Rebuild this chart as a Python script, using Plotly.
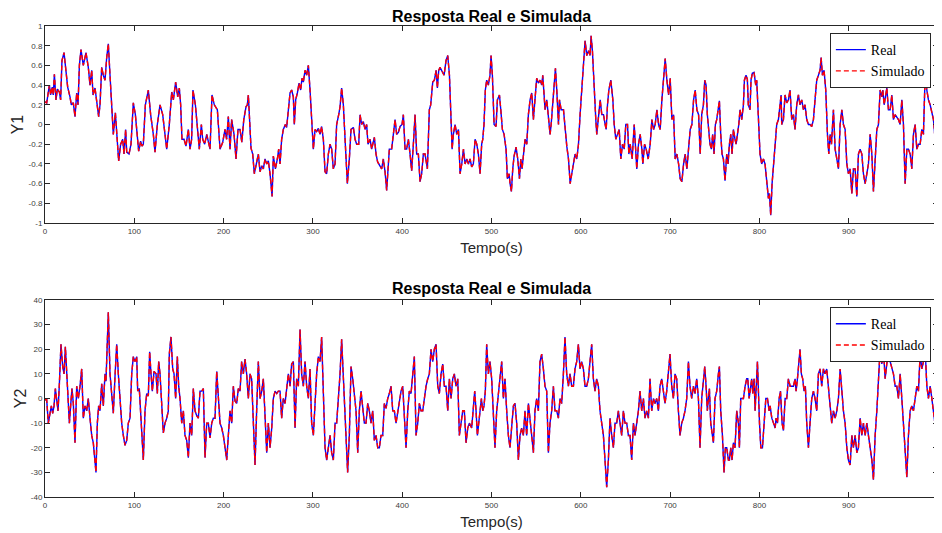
import plotly.graph_objects as go

# ---------------- data (time in s) ----------------
y1_points = [
(0,0.23),(1.9,0.22),(4.9,0.40),(6.3,0.30),(8.2,0.38),(9.3,0.30),(10.5,0.51),(12.3,0.25),(13.8,0.36),(16.1,0.33),
(17.5,0.25),(19.0,0.65),(21.3,0.73),(23.5,0.55),(25.4,0.38),(28.0,0.28),(29.5,0.20),(31.7,0.22),(33.6,0.08),(35.5,0.32),
(37.0,0.20),(38.5,0.60),(40.3,0.76),(42.9,0.60),(45.9,0.73),(48.5,0.58),(50.4,0.40),(52.3,0.55),(53.8,0.30),(56.0,0.37),
(57.9,0.25),(60.1,0.08),(61.6,0.20),(63.5,0.58),(65.3,0.50),(67.2,0.45),(69.1,0.68),(70.9,0.82),(72.8,0.50),(74.7,0.10),
(76.5,-0.10),(78.8,0.12),(81.0,-0.20),(82.5,-0.37),(84.7,-0.20),(87.0,-0.15),(88.5,-0.30),(90.3,-0.05),(91.5,-0.28),(94.1,-0.30),
(96.3,-0.20),(98.9,0.22),(101.2,0.10),(103.4,-0.10),(104.9,-0.27),(107.1,-0.17),(108.6,-0.22),(110.1,-0.20),(112.4,0.20),(115.7,0.35),
(118.3,0.10),(121.3,-0.10),(123.2,-0.28),(125.8,0.00),(128.8,0.20),(131.8,0.10),(134.4,-0.08),(136.3,-0.25),(139.2,0.00),(141.9,0.33),
(143.7,0.25),(146.3,0.43),(148.6,0.28),(150.4,0.37),(151.9,0.20),(153.4,-0.15),(155.7,-0.15),(157.9,-0.22),(160.5,-0.05),(162.4,-0.25),
(164.2,-0.15),(165.7,0.35),(168.4,0.20),(170.6,0.00),(172.8,-0.25),(175.1,0.00),(176.6,-0.15),(178.8,-0.20),(181.1,-0.10),(184.8,-0.25),
(187.0,0.30),(189.6,0.20),(193.0,0.15),(196.0,-0.25),(199.0,-0.18),(201.6,-0.05),(203.4,-0.15),(205.3,0.08),(207.2,-0.25),(209.0,0.05),
(211.7,-0.10),(213.9,-0.35),(216.1,-0.05),(218.4,-0.05),(220.4,-0.18),(222.6,0.05),(225.1,0.18),(226.6,0.20),(227.7,0.30),(230.7,-0.24),
(232.6,-0.30),(234.4,-0.50),(236.3,-0.40),(238.9,-0.30),(240.8,-0.48),(242.7,-0.42),(244.5,-0.45),(246.4,-0.35),(248.3,-0.40),(250.1,-0.37),
(252.0,-0.50),(254.3,-0.73),(255.7,-0.32),(258.0,-0.45),(260.2,-0.35),(261.7,-0.25),(263.2,-0.40),(265.0,-0.15),(266.9,-0.05),(269.1,0.00),
(270.6,-0.03),(272.5,0.16),(274.4,0.32),(276.2,0.35),(278.1,0.28),(279.2,0.00),(280.7,0.25),(282.6,0.32),(284.5,0.42),(286.3,0.35),
(287.8,0.47),(289.3,0.43),(291.2,0.55),(293.0,0.50),(294.9,0.60),(296.8,0.35),(298.6,0.00),(300.5,-0.25),(302.4,-0.05),(304.2,-0.07),
(306.1,-0.04),(308.0,-0.10),(309.8,-0.02),(311.7,-0.15),(313.6,-0.48),(315.4,-0.50),(317.3,-0.30),(319.2,-0.20),(321.0,-0.25),(322.9,-0.45),
(324.8,-0.40),(326.6,0.00),(328.9,0.10),(330.4,0.18),(332.2,0.37),(334.1,0.20),(336.3,-0.20),(338.6,-0.60),(340.8,-0.35),(342.7,-0.05),
(345.3,-0.03),(347.2,-0.15),(349.0,-0.20),(351.3,-0.20),(352.8,0.10),(354.6,0.00),(356.5,0.03),(358.4,-0.05),(360.2,0.00),(361.7,-0.20),
(364.0,-0.15),(365.8,-0.25),(368.8,-0.13),(370.7,-0.30),(372.5,-0.38),(375.2,-0.42),(377.0,-0.45),(378.9,-0.35),(380.8,-0.48),(382.6,-0.67),
(384.1,-0.48),(385.6,-0.25),(388.2,-0.25),(390.1,-0.10),(392.0,0.05),(393.8,-0.10),(395.7,-0.08),(397.6,-0.02),(399.8,0.00),(401.3,0.10),
(403.2,-0.25),(405.0,-0.25),(406.9,-0.15),(408.8,-0.30),(410.6,-0.47),(412.5,-0.20),(414.4,0.10),(416.2,-0.30),(418.1,-0.30),(420.0,-0.58),
(421.8,-0.50),(423.7,-0.30),(425.6,-0.30),(428.2,-0.45),(430.4,0.15),(431.9,0.20),(434.2,0.43),(436.0,0.45),(438.0,0.55),(439.4,0.37),
(440.9,0.55),(442.4,0.58),(444.3,0.55),(446.9,0.50),(449.1,0.65),(451.0,0.70),(452.9,0.50),(454.4,0.00),(455.9,-0.25),(457.3,-0.10),
(459.2,0.00),(461.1,-0.10),(463.0,-0.05),(464.8,-0.50),(466.7,-0.40),(468.6,-0.25),(470.4,-0.40),(472.3,-0.35),(474.2,-0.40),(476.0,-0.35),
(477.8,-0.43),(479.7,-0.40),(481.6,-0.15),(483.5,-0.20),(485.3,-0.30),(487.2,-0.50),(489.0,-0.20),(490.2,-0.15),(491.6,0.00),(493.1,0.35),
(494.6,0.45),(496.5,0.40),(498.3,0.50),(499.5,0.70),(501.0,0.50),(502.9,0.00),(505.1,-0.02),(506.6,0.25),(508.9,0.30),(510.4,0.15),
(512.2,-0.05),(514.1,-0.10),(516.3,-0.25),(517.8,-0.55),(519.7,-0.50),(520.8,-0.60),(522.3,-0.68),(523.8,-0.45),(525.3,-0.32),(527.5,-0.23),
(529.4,-0.35),(531.3,-0.55),(532.8,-0.35),(534.2,-0.45),(535.7,-0.30),(537.6,-0.15),(539.5,-0.20),(541.3,0.10),(543.2,0.25),(545.1,0.32),
(546.9,0.05),(548.8,0.30),(550.6,0.47),(552.5,0.42),(554.4,0.45),(556.2,0.40),(557.4,0.50),(558.9,0.30),(560.0,0.15),(561.9,0.25),
(563.8,0.05),(565.6,-0.10),(566.8,0.00),(568.6,0.20),(570.5,0.40),(571.6,0.57),(573.1,0.35),(575.0,0.00),(576.1,0.25),(578.0,0.15),
(580.6,0.15),(582.5,-0.05),(584.3,-0.22),(586.2,-0.35),(588.1,-0.60),(589.9,-0.50),(591.8,-0.40),(593.6,-0.30),(595.5,-0.35),(597.4,-0.20),
(599.2,0.10),(601.1,0.35),(603.0,0.60),(604.8,0.85),(606.7,0.70),(608.6,0.75),(610.4,0.70),(611.5,0.90),(613.0,0.75),(614.9,0.35),
(616.8,0.05),(617.9,-0.10),(619.8,0.10),(621.7,0.25),(623.5,0.10),(625.4,0.10),(627.3,0.00),(628.4,-0.05),(629.9,0.20),(631.4,0.35),
(633.6,0.45),(635.9,0.25),(637.4,0.00),(639.2,-0.15),(641.1,-0.10),(643.0,-0.05),(644.8,-0.35),(646.7,-0.20),(648.6,-0.25),(650.4,0.00),
(652.3,0.00),(653.8,-0.30),(655.3,-0.20),(657.5,-0.35),(659.8,0.00),(661.3,-0.30),(662.7,-0.45),(664.6,-0.20),(666.5,-0.10),(668.4,-0.25),
(669.5,-0.40),(671.4,-0.20),(673.2,-0.25),(675.5,-0.35),(677.7,-0.20),(679.6,0.05),(681.5,-0.05),(683.3,0.00),(685.2,0.15),(687.1,0.00),
(688.9,-0.05),(690.8,0.25),(692.7,0.45),(694.5,0.67),(696.4,0.45),(698.3,0.30),(700.1,0.47),(702.0,0.05),(703.9,0.10),(705.7,-0.35),
(707.6,-0.30),(709.5,-0.40),(711.3,-0.55),(713.2,-0.58),(715.1,-0.40),(716.9,-0.30),(718.8,-0.45),(720.7,-0.20),(722.5,-0.05),(724.4,0.00),
(726.3,0.25),(728.1,0.35),(730.0,0.15),(731.9,0.10),(733.7,-0.30),(735.4,0.10),(737.3,0.20),(738.8,0.45),(740.3,0.40),(741.7,0.10),
(743.6,-0.15),(744.7,-0.20),(746.2,-0.25),(747.7,-0.10),(749.2,-0.30),(750.7,0.00),(752.2,0.05),(754.1,0.20),(755.2,0.24),(756.7,-0.10),
(758.2,-0.30),(759.7,-0.35),(761.5,-0.57),(763.4,-0.30),(764.9,-0.40),(766.4,-0.20),(767.9,-0.10),(769.4,-0.30),(770.9,-0.05),(772.7,-0.15),
(773.9,-0.20),(775.4,-0.10),(776.9,0.00),(778.3,0.15),(780.2,0.05),(782.1,0.20),(783.2,0.45),(785.0,0.50),(786.5,0.46),(787.6,0.20),
(789.5,0.15),(790.6,0.45),(792.1,0.52),(794.0,0.53),(795.9,0.40),(797.0,0.45),(798.9,0.00),(800.7,-0.30),(802.6,-0.40),(804.5,-0.35),
(806.3,-0.40),(808.2,-0.60),(810.1,-0.75),(811.2,-0.70),(812.7,-0.92),(814.2,-0.60),(815.7,-0.45),(817.5,-0.25),(819.4,0.00),(821.3,0.05),
(823.1,0.25),(824.3,0.30),(825.0,0.00),(826.9,0.05),(828.7,0.30),(830.6,0.22),(832.5,0.25),(834.3,0.35),(836.2,0.05),(838.1,0.10),
(839.9,-0.05),(841.8,0.20),(843.7,0.30),(845.5,0.20),(847.4,0.25),(849.3,0.15),(851.1,0.20),(853.0,0.05),(854.9,0.00),(856.7,0.00),
(858.6,-0.02),(860.5,0.05),(862.3,0.25),(864.2,0.45),(866.1,0.50),(867.9,0.55),(869.1,0.68),(870.6,0.50),(872.4,0.55),(874.3,0.35),
(876.2,-0.10),(877.7,-0.30),(879.2,-0.10),(880.7,-0.20),(882.9,0.15),(884.8,-0.25),(886.7,-0.35),(888.5,-0.45),(890.4,0.00),(892.3,0.15),
(894.1,0.00),(896.0,-0.05),(897.9,-0.40),(899.7,-0.50),(901.6,-0.45),(903.5,-0.70),(905.3,-0.45),(907.2,-0.45),(909.1,-0.73),(910.9,-0.30),
(912.8,-0.25),(914.7,-0.30),(916.5,-0.50),(918.4,-0.60),(920.3,-0.50),(922.1,-0.40),(924.0,-0.10),(925.9,-0.30),(927.7,-0.68),(929.6,-0.40),
(931.5,-0.05),(933.3,0.00),(935.2,0.35),(937.1,0.28),(938.2,0.35),(939.7,0.20),(941.2,0.28),(942.7,0.37),(944.5,0.15),(946.4,0.15),
(948.3,0.30),(950.1,0.05),(952.0,0.10),(953.9,0.08),(955.7,0.05),(957.6,0.00),(959.5,0.25),(961.3,0.00),(963.2,-0.60),(965.1,-0.25),
(966.9,-0.25),(968.8,-0.30),(970.7,-0.45),(972.5,-0.10),(974.4,0.00),(976.3,-0.25),(978.1,-0.20),(980.0,-0.20),(981.9,-0.05),(983.7,-0.10),
(985.6,0.50),(987.5,0.35),(989.3,0.25),(991.2,0.20),(993.1,0.10),(994.9,0.05),(996.8,-0.15),(998.7,-0.25),(1000,-0.40),
]

y2_points = [
(0,-0.5),(1.9,-0.5),(3.7,-10),(5.6,-5),(7.1,-3),(8.6,-6),(10.1,-3),(11.6,4),(13.1,-2),(14.6,-5),
(16.1,6),(17.9,22),(19.8,13),(21.3,10),(22.8,21),(24.3,12),(26.1,0),(27.3,-10),(28.7,-3),(30.2,4),
(31.7,-2),(33.6,-18),(35.5,5),(37.3,0),(39.2,5),(41.1,12),(42.9,-8),(44.8,-3),(46.7,-5),(48.5,0),
(50.4,-8),(52.3,-15),(54.1,-18),(55.6,-25),(57.1,-30),(58.6,-10),(60.1,-3),(61.6,-5),(63.5,6),(65.3,-3),
(67.2,10),(68.3,7),(69.8,22),(70.9,35),(72.8,10),(74.7,0),(76.5,-6),(78.4,9),(80.3,22),(82.1,10),
(84.0,0),(85.9,-10),(87.7,-15),(89.6,-19),(91.5,-17),(93.3,-10),(95.2,-8),(97.1,10),(98.9,17),(100.8,15),
(102.7,17),(103.8,3),(105.6,4),(107.1,-5),(108.6,-15),(110.1,-25),(112.0,-5),(113.9,2),(115.7,1),(117.2,19),
(118.7,10),(120.2,3),(122.1,11),(124.3,10),(125.8,2),(127.3,15),(128.8,10),(130.7,-5),(132.5,-14),(134.4,-10),
(136.3,-8),(138.1,-5),(139.2,18),(141.1,25),(143.0,12),(144.5,10),(146.3,0),(148.2,17),(149.7,5),(151.2,0),
(153.1,-10),(154.9,-5),(156.8,-15),(158.7,-17),(160.5,-24),(162.4,-10),(164.3,-15),(166.1,4),(168.0,-5),(169.9,-7),
(171.7,-8),(173.6,3),(175.5,3),(177.3,4),(179.2,-24),(181.1,-10),(182.9,-10),(184.8,-16),(186.7,-10),(188.5,-8),
(190.4,-8),(192.3,11),(194.1,0),(196.0,-10),(197.9,-12),(199.7,-15),(201.6,-20),(203.5,-25),(205.3,-15),(207.2,-5),
(209.1,-10),(210.9,5),(212.8,-1),(214.7,-2),(216.5,4),(218.4,3),(220.2,15),(222.1,10),(224.0,16),(225.8,10),
(227.7,0),(229.6,10),(231.4,8),(233.3,-10),(235.2,-27),(237.0,-5),(238.9,15),(240.8,0),(242.7,3),(244.5,8),
(246.4,-10),(248.3,-22),(250.1,-10),(252.0,-20),(253.9,-12),(255.7,0),(257.6,3),(259.5,2),(261.3,3),(263.2,3),
(265.0,-8),(266.9,0),(268.8,-2),(270.6,3),(272.5,10),(274.4,5),(276.2,14),(278.1,15),(280.0,-12),(281.8,8),
(283.7,5),(285.6,28),(287.4,10),(289.3,5),(291.2,15),(293.0,5),(294.9,0),(296.8,12),(298.6,-10),(300.5,-15),
(302.4,0),(304.2,10),(306.1,17),(308.0,15),(309.8,25),(311.7,5),(313.6,-20),(315.4,-25),(317.3,-20),(319.2,-15),
(321.0,-22),(322.9,-25),(324.8,-10),(326.6,-10),(328.5,0),(330.4,10),(332.2,24),(334.1,8),(336.0,-10),(337.8,-22),
(338.9,-30),(340.8,-15),(342.7,13),(344.6,8),(346.4,0),(348.3,-5),(350.2,-22),(352.0,-5),(353.9,3),(355.8,-5),
(357.6,-10),(359.5,-10),(361.4,-2),(363.2,-5),(365.1,-10),(367.0,-5),(368.8,-17),(370.7,-15),(372.6,-20),(374.4,-20),
(376.3,-15),(378.2,-15),(380.0,-2),(381.9,-4),(383.8,0),(385.6,2),(387.5,5),(389.4,-5),(391.2,-5),(393.1,-10),
(395.0,-5),(396.8,0),(398.7,3),(400.6,5),(402.4,-10),(404.3,-20),(406.2,-5),(408.0,3),(409.9,2),(411.8,10),
(413.6,17),(415.5,-15),(417.4,-10),(419.2,-2),(421.1,-5),(423.0,-5),(424.8,0),(426.7,5),(428.6,8),(430.4,10),
(432.3,20),(434.2,15),(436.0,20),(437.9,22),(439.8,5),(441.6,2),(443.5,10),(445.4,14),(447.2,5),(449.1,5),
(451.0,-5),(452.8,8),(454.7,0),(456.6,8),(458.4,10),(460.3,5),(462.2,8),(464.0,-15),(465.9,-10),(467.8,-5),
(469.6,-5),(471.5,-18),(473.4,-12),(475.2,-10),(477.8,-12),(479.7,-5),(481.2,3),(482.7,-5),(484.2,-15),(485.7,-10),
(487.2,-5),(488.7,0),(490.2,-5),(491.6,-3),(493.1,3),(494.6,22),(496.5,10),(498.3,15),(500.2,8),(502.1,-10),
(503.9,-20),(505.8,-5),(507.7,3),(509.5,8),(511.4,15),(513.3,0),(515.1,8),(517.0,-5),(518.9,-15),(520.7,-20),
(522.6,-10),(524.5,-3),(526.3,-2),(528.2,-10),(530.1,-25),(531.9,-15),(533.8,-12),(535.7,-15),(537.5,-5),(539.4,-15),
(541.3,-2),(543.1,-10),(545.0,-15),(546.9,-22),(548.7,-5),(550.6,0),(552.5,-5),(554.3,15),(556.2,18),(558.1,12),
(559.9,5),(561.8,3),(563.7,-22),(565.5,-10),(567.4,-5),(569.3,5),(571.1,-5),(573.0,-5),(574.9,-8),(576.7,0),
(578.6,-2),(580.5,10),(582.3,25),(584.2,10),(586.1,5),(587.9,10),(589.8,5),(591.7,5),(593.5,12),(595.4,15),
(597.3,22),(599.1,12),(601.0,15),(602.9,12),(604.7,5),(606.6,5),(608.5,8),(610.3,15),(612.2,22),(614.1,8),
(615.9,3),(617.8,8),(619.7,5),(621.5,-5),(623.4,-10),(625.3,-15),(627.1,-25),(629.0,-36),(630.9,-25),(632.7,-8),
(634.6,-15),(636.5,-20),(638.3,-10),(640.2,-10),(642.1,-5),(643.9,-10),(645.8,-15),(647.7,-5),(649.5,-10),(651.4,-10),
(653.3,-15),(655.1,-15),(657.0,-25),(658.9,-10),(660.7,-15),(662.6,-10),(664.5,-5),(666.3,3),(668.2,-5),(670.1,0),
(671.9,-8),(673.8,-5),(675.7,-8),(677.5,8),(679.4,-5),(681.3,0),(683.1,-2),(685.0,0),(686.9,-5),(688.7,5),
(690.6,8),(692.5,3),(694.3,-2),(696.2,3),(698.1,10),(699.9,18),(701.8,5),(703.7,0),(705.5,10),(707.4,8),
(709.3,-5),(711.1,-15),(713.0,-10),(714.9,-8),(716.7,-5),(718.6,0),(720.5,15),(722.3,5),(724.2,0),(726.1,5),
(727.9,2),(729.8,8),(731.7,0),(733.5,-20),(735.4,0),(737.3,8),(738.8,13),(740.3,5),(741.7,-5),(742.9,0),
(744.0,4),(745.5,-10),(747.0,-15),(748.5,-18),(750.3,0),(752.2,3),(754.1,10),(755.2,13),(756.7,-5),(758.6,-15),
(760.4,-30),(761.9,-20),(763.4,-20),(765.3,-25),(766.4,-25),(767.9,-20),(769.4,-25),(770.9,-18),(772.7,-20),(774.6,-5),
(776.5,-10),(777.6,-20),(779.1,0),(781.0,0),(782.1,0),(784.0,5),(785.8,8),(787.0,8),(788.5,0),(789.6,3),
(791.4,8),(792.6,2),(794.1,8),(795.2,-5),(797.1,8),(797.8,15),(800.1,-10),(801.6,-20),(803.4,-20),(805.3,-10),
(807.2,0),(809.0,0),(810.9,-5),(812.0,-3),(813.9,-8),(815.8,-10),(817.6,-12),(818.7,-8),(820.2,-10),(822.1,0),
(823.6,3),(825.4,-10),(826.9,-13),(828.8,0),(830.6,0),(832.5,8),(834.4,5),(836.2,5),(838.1,5),(840.0,8),
(841.1,3),(842.6,8),(844.1,14),(845.5,20),(847.0,10),(848.5,8),(850.0,3),(851.5,5),(853.0,-10),(854.9,-20),
(856.7,-10),(858.6,0),(860.5,3),(862.3,0),(864.2,-5),(866.1,10),(867.9,12),(869.8,5),(871.7,12),(873.5,10),
(875.4,12),(877.3,5),(879.2,-5),(881.0,-10),(882.9,-5),(884.8,-8),(886.7,-5),(888.5,0),(890.4,12),(892.3,2),
(894.1,-5),(896.0,-10),(897.9,-20),(899.7,-25),(901.6,-27),(903.5,-15),(905.3,-20),(907.2,-15),(909.1,-22),(910.9,-20),
(912.8,-8),(914.7,-15),(916.5,-10),(918.4,-15),(920.3,-10),(922.1,-15),(924.0,-20),(925.9,-25),(927.7,-33),(929.6,-15),
(931.5,-5),(933.3,5),(935.2,20),(937.1,14),(938.9,20),(940.8,8),(942.7,15),(944.5,20),(946.4,15),(948.3,12),
(950.1,10),(952.0,5),(953.9,5),(955.7,0),(957.6,10),(959.5,0),(961.3,-10),(963.2,-20),(965.1,-32),(966.9,-15),
(968.8,-5),(970.7,-3),(972.5,-5),(974.4,0),(976.3,5),(978.1,3),(980.0,18),(981.9,12),(983.7,15),(985.6,20),
(987.5,5),(989.3,0),(991.2,5),(993.1,0),(994.9,-5),(996.8,-10),(998.7,-15),(1000,-20),
]

t1 = [p[0] for p in y1_points]
y1_real = [p[1] for p in y1_points]
y1_sim = list(y1_real)      # simulated output coincides with the real one in the picture
t2 = [p[0] for p in y2_points]
y2_real = [p[1] for p in y2_points]
y2_sim = list(y2_real)

x_ticks = [0, 100, 200, 300, 400, 500, 600, 700, 800, 900, 1000]
y1_ticks = [-1, -0.8, -0.6, -0.4, -0.2, 0, 0.2, 0.4, 0.6, 0.8, 1]
y1_ticktext = ["-1", "-0.8", "-0.6", "-0.4", "-0.2", "0", "0.2", "0.4", "0.6", "0.8", "1"]
y2_ticks = [-40, -30, -20, -10, 0, 10, 20, 30, 40]
y2_ticktext = ["-40", "-30", "-20", "-10", "0", "10", "20", "30", "40"]

title_text = "Resposta Real e Simulada"
xlabel = "Tempo(s)"

# ---------------- figure ----------------
BLUE = "#0000ff"
RED = "#ff0000"
AX = "#262626"
TICKC = "#404040"
SANS = "Liberation Sans, Arial"

fig = go.Figure()
fig.add_trace(go.Scatter(x=t1, y=y1_real, mode="lines", name="Real",
                         line=dict(color=BLUE, width=1.4), xaxis="x", yaxis="y", legend="legend"))
fig.add_trace(go.Scatter(x=t1, y=y1_sim, mode="lines", name="Simulado",
                         line=dict(color=RED, width=1.4, dash="5px,3px"), xaxis="x", yaxis="y", legend="legend"))
fig.add_trace(go.Scatter(x=t2, y=y2_real, mode="lines", name="Real",
                         line=dict(color=BLUE, width=1.4), xaxis="x2", yaxis="y2", legend="legend2"))
fig.add_trace(go.Scatter(x=t2, y=y2_sim, mode="lines", name="Simulado",
                         line=dict(color=RED, width=1.4, dash="5px,3px"), xaxis="x2", yaxis="y2", legend="legend2"))

common_x = dict(range=[0, 1000], tickmode="array", tickvals=x_ticks, ticks="inside", ticklen=5,
                tickcolor=AX, showline=True, linecolor=AX, linewidth=1, mirror="ticks",
                showgrid=False, zeroline=False, automargin=True,
                tickfont=dict(family=SANS, size=8, color=TICKC),
                title=dict(text=xlabel, font=dict(family=SANS, size=15, color="#262626"), standoff=7))
common_y = dict(ticks="inside", ticklen=5, tickcolor=AX, showline=True, linecolor=AX, linewidth=1,
                mirror="ticks", showgrid=False, zeroline=False, tickmode="array", automargin=True,
                tickfont=dict(family=SANS, size=8, color=TICKC))

legend_common = dict(xref="paper", yref="paper", x=0.992, xanchor="right", yanchor="top",
                     bgcolor="white", bordercolor=AX, borderwidth=1,
                     font=dict(family="Liberation Serif, Times New Roman, serif", size=14, color="black"),
                     tracegroupgap=0, itemwidth=30)

# page body has an 8px margin: figure is 934x525 and sits at (8, 8)
fig.update_layout(
    width=934, height=525,
    margin=dict(l=37, r=4, t=18, b=36, autoexpand=False),
    paper_bgcolor="white", plot_bgcolor="white",
    showlegend=True,
    xaxis=dict(domain=[0, 1], anchor="y", **common_x),
    yaxis=dict(domain=[0.5817, 1], anchor="x", range=[-1, 1], tickvals=y1_ticks, ticktext=y1_ticktext,
               title=dict(text="Y1", font=dict(family=SANS, size=16, color="#262626"), standoff=0),
               **common_y),
    xaxis2=dict(domain=[0, 1], anchor="y2", **common_x),
    yaxis2=dict(domain=[0, 0.4183], anchor="x2", range=[-40, 40], tickvals=y2_ticks, ticktext=y2_ticktext,
                title=dict(text="Y2", font=dict(family=SANS, size=16, color="#262626"), standoff=0),
                **common_y),
    legend=dict(y=0.985, **legend_common),
    legend2=dict(y=0.403, **legend_common),
    annotations=[
        dict(text="<b>" + title_text + "</b>", xref="x domain", yref="y domain", x=0.5, y=1,
             xanchor="center", yanchor="middle", yshift=9.5, showarrow=False,
             font=dict(family=SANS, size=16, color="black")),
        dict(text="<b>" + title_text + "</b>", xref="x2 domain", yref="y2 domain", x=0.5, y=1,
             xanchor="center", yanchor="middle", yshift=11, showarrow=False,
             font=dict(family=SANS, size=16, color="black")),
    ],
)

fig.write_html("out.html")
